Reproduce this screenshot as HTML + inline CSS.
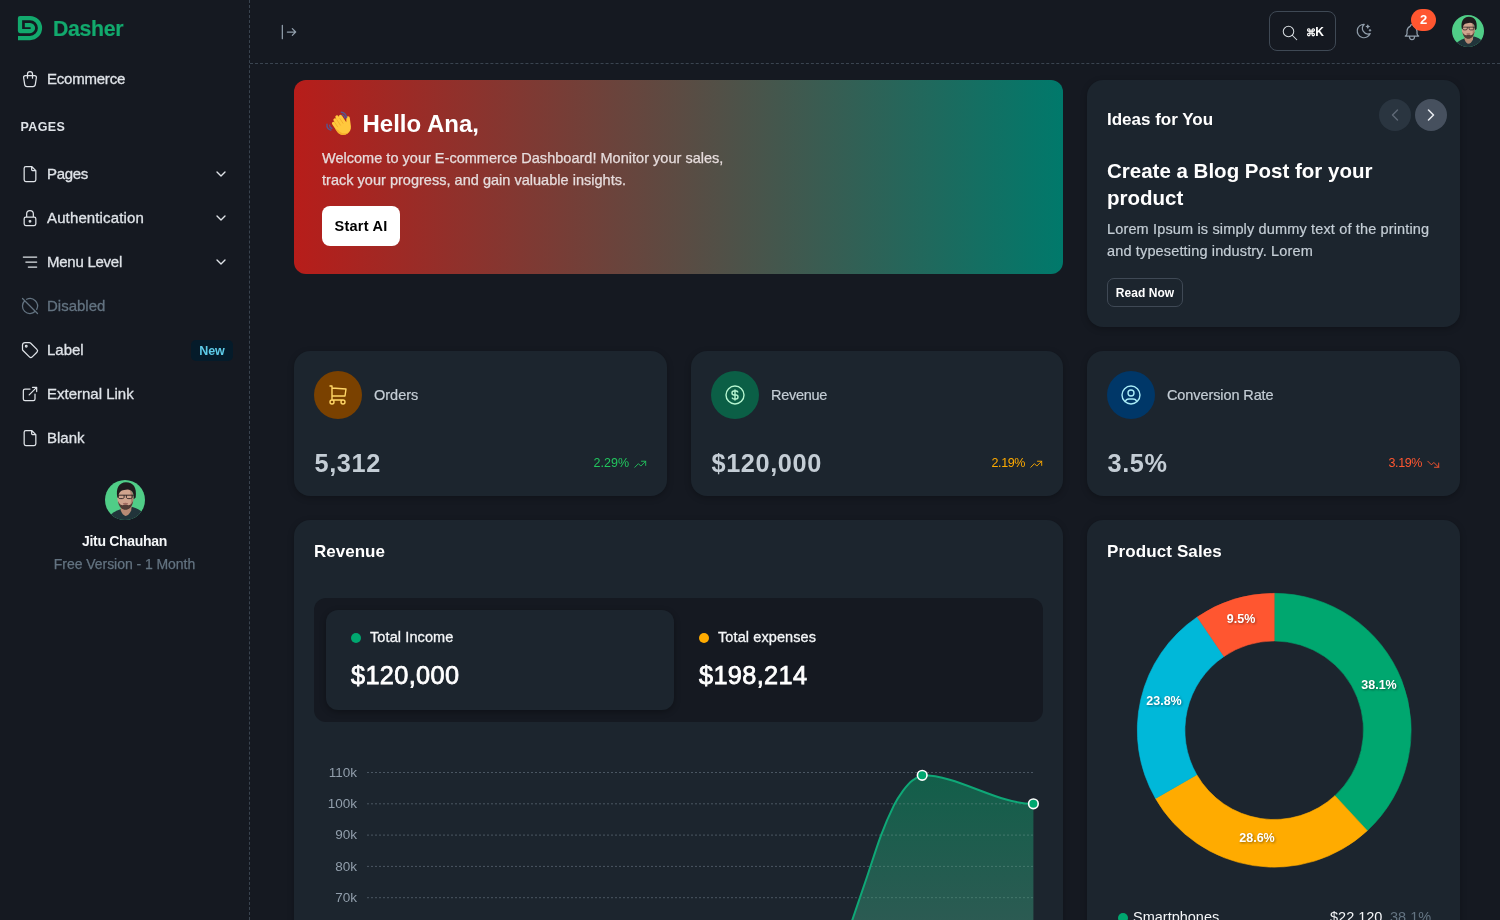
<!DOCTYPE html>
<html lang="en">
<head>
<meta charset="utf-8">
<title>Dasher - Ecommerce Dashboard</title>
<style>
*{box-sizing:border-box;margin:0;padding:0}
html,body{width:1500px;height:920px;overflow:hidden;background:#151921;}
body{font-family:"Liberation Sans",Arial,sans-serif;color:#fff;position:relative;-webkit-font-smoothing:antialiased}
.abs{position:absolute}
svg{display:block;overflow:visible}
/* ---------- sidebar ---------- */
#sidebar{position:absolute;left:0;top:0;width:250px;height:920px;border-right:1px dashed #3a4450;background:#151921}
.brand{position:absolute;left:18px;top:16px}
.brandtxt{position:absolute;left:53px;top:15.800px;font-weight:700;font-size:21.300px;line-height:26px;color:#12a96d;-webkit-text-stroke:.2px #12a96d;letter-spacing:-.35px}
.nav{position:absolute;left:0;width:249px;height:44px}
.nav .ic{position:absolute;left:20px;top:12px;width:20px;height:20px;stroke:#dfe3e8;fill:none;stroke-width:1.5;stroke-linecap:round;stroke-linejoin:round}
.nav .tx{position:absolute;left:47px;top:12px;font-size:15px;line-height:20px;color:#dfe3e8;white-space:nowrap;-webkit-text-stroke:.3px #dfe3e8}
.nav .chev{position:absolute;left:213px;top:14px;width:16px;height:16px;stroke:#dfe3e8;fill:none;stroke-width:2;stroke-linecap:round;stroke-linejoin:round}
.nav.dis .tx{color:#637381;-webkit-text-stroke:.3px #637381}
.nav.dis .ic{stroke:#637381}
.navhead{position:absolute;left:20.500px;top:119px;font-size:12.500px;font-weight:700;letter-spacing:.4px;color:#dfe3e8;line-height:16px}
.badge-new{position:absolute;left:191px;top:12px;width:42px;height:21px;border-radius:5px;background:#051b2a;color:#5ecbe8;font-size:12.500px;font-weight:700;line-height:23px;text-align:center}
.uname{position:absolute;left:0;width:249px;text-align:center;top:532px;font-size:14px;font-weight:700;line-height:18px;color:#f4f6f8;letter-spacing:-.3px}
.uplan{position:absolute;left:0;width:249px;text-align:center;top:555px;font-size:14px;line-height:18px;color:#637381;-webkit-text-stroke:.25px #637381;letter-spacing:-.05px}
/* ---------- header ---------- */
#header{position:absolute;left:250px;top:0;width:1250px;height:64px;border-bottom:1px dashed #3a4450}
.search{position:absolute;left:1019px;top:11px;width:67px;height:40px;border:1px solid #3f4955;border-radius:8px}
.kbd{position:absolute;left:1055.500px;top:23.500px;font-size:12px;font-weight:700;line-height:16px;color:#fff;letter-spacing:-.2px}
.nbadge{position:absolute;left:1161px;top:9px;width:25px;height:22px;border-radius:11px;background:#ff5630;color:#fff;font-size:13px;font-weight:700;line-height:21px;text-align:center}
/* ---------- cards ---------- */
.card{position:absolute;background:#1c252e;border-radius:16px;box-shadow:0 2px 6px rgba(0,0,0,.25)}
.hero{position:absolute;left:294px;top:80px;width:769px;height:194px;border-radius:12px;background:linear-gradient(90deg,#b71d1a 0%,#00796b 100%)}
.hero h1{position:absolute;left:68.500px;top:29px;font-size:24px;font-weight:700;line-height:30px;color:#fff;letter-spacing:0;white-space:nowrap}
.hero p{position:absolute;left:28px;top:67px;font-size:14.500px;line-height:22px;color:#e6dcdc;-webkit-text-stroke:.25px #e6dcdc;white-space:nowrap;letter-spacing:.02px}
.btnw{position:absolute;left:28px;top:126.200px;width:78px;height:40px;background:#fff;border-radius:8px;color:#000;font-weight:700;font-size:14.500px;line-height:41.200px;text-align:center;letter-spacing:.25px}
.ctitle{position:absolute;left:20px;font-size:17px;font-weight:700;line-height:22px;color:#fff;white-space:nowrap}
.stat .circ{position:absolute;left:20px;top:20px;width:48px;height:48px;border-radius:50%}
.stat .lbl{position:absolute;left:80px;top:34px;font-size:14.500px;line-height:20px;color:#c4cdd5;-webkit-text-stroke:.2px #c4cdd5;white-space:nowrap}
.stat .val{position:absolute;left:20.500px;top:95.200px;font-size:25.300px;font-weight:700;line-height:34px;color:#c4cdd5;white-space:nowrap;letter-spacing:.6px}
.stat .pct{position:absolute;right:38px;top:104.300px;font-size:12.5px;line-height:16px;white-space:nowrap}
.stat .arr{position:absolute;right:20px;top:105.500px;width:14.500px;height:14.500px;fill:none;stroke-width:1.500;stroke-linecap:round;stroke-linejoin:round}
</style>
</head>
<body>

<!-- ================= SIDEBAR ================= -->
<div id="sidebar">
  <svg class="brand" width="24" height="24" viewBox="18 16 24 24"><path d="M18 38H30A10 10 0 0 0 30 18H20V31H30A3 3 0 0 0 30 25H24.8" fill="none" stroke="#12a96d" stroke-width="4.250" stroke-linejoin="round"/></svg>
  <div class="brandtxt">Dasher</div>

  <div class="nav" style="top:57px">
    <svg class="ic" viewBox="0 0 24 24"><path d="M6.331 8h11.339a2 2 0 0 1 1.977 2.304l-1.255 8.152a3 3 0 0 1 -2.966 2.544h-6.852a3 3 0 0 1 -2.965 -2.544l-1.255 -8.152a2 2 0 0 1 1.977 -2.304zM9 11v-5a3 3 0 0 1 6 0v5"/></svg>
    <div class="tx" style="letter-spacing:-0.22px">Ecommerce</div>
  </div>

  <div class="navhead">PAGES</div>

  <div class="nav" style="top:152px">
    <svg class="ic" viewBox="0 0 24 24"><path d="M14 3v4a1 1 0 0 0 1 1h4M17 21h-10a2 2 0 0 1 -2 -2v-14a2 2 0 0 1 2 -2h7l5 5v11a2 2 0 0 1 -2 2z"/></svg>
    <div class="tx" style="letter-spacing:-.3px">Pages</div>
    <svg class="chev" viewBox="0 0 24 24"><path d="M6 9l6 6l6 -6"/></svg>
  </div>
  <div class="nav" style="top:196px">
    <svg class="ic" viewBox="0 0 24 24"><path d="M5 13a2 2 0 0 1 2 -2h10a2 2 0 0 1 2 2v6a2 2 0 0 1 -2 2h-10a2 2 0 0 1 -2 -2v-6zM11 16a1 1 0 1 0 2 0a1 1 0 0 0 -2 0M8 11v-4a4 4 0 1 1 8 0v4"/></svg>
    <div class="tx" style="letter-spacing:0.13px">Authentication</div>
    <svg class="chev" viewBox="0 0 24 24"><path d="M6 9l6 6l6 -6"/></svg>
  </div>
  <div class="nav" style="top:240px">
    <svg class="ic" viewBox="0 0 24 24"><path d="M4 6h16M7 12h13M10 18h10"/></svg>
    <div class="tx" style="letter-spacing:-0.25px">Menu Level</div>
    <svg class="chev" viewBox="0 0 24 24"><path d="M6 9l6 6l6 -6"/></svg>
  </div>
  <div class="nav dis" style="top:284px">
    <svg class="ic" viewBox="0 0 24 24"><path d="M20.042 16.045a9 9 0 0 0 -12.087 -12.087m-2.318 1.677a9 9 0 1 0 12.725 12.730M3 3l18 18"/></svg>
    <div class="tx">Disabled</div>
  </div>
  <div class="nav" style="top:328px">
    <svg class="ic" viewBox="0 0 24 24"><path d="M7.500 7.500m-1 0a1 1 0 1 0 2 0a1 1 0 1 0 -2 0M3 6v5.172a2 2 0 0 0 .586 1.414l7.710 7.710a2.410 2.410 0 0 0 3.408 0l5.592 -5.592a2.410 2.410 0 0 0 0 -3.408l-7.710 -7.710a2 2 0 0 0 -1.414 -.586h-5.172a3 3 0 0 0 -3 3z"/></svg>
    <div class="tx">Label</div>
    <div class="badge-new">New</div>
  </div>
  <div class="nav" style="top:372px">
    <svg class="ic" viewBox="0 0 24 24"><path d="M12 6h-6a2 2 0 0 0 -2 2v10a2 2 0 0 0 2 2h10a2 2 0 0 0 2 -2v-6M11 13l9 -9M15 4h5v5"/></svg>
    <div class="tx">External Link</div>
  </div>
  <div class="nav" style="top:416px">
    <svg class="ic" viewBox="0 0 24 24"><path d="M14 3v4a1 1 0 0 0 1 1h4M17 21h-10a2 2 0 0 1 -2 -2v-14a2 2 0 0 1 2 -2h7l5 5v11a2 2 0 0 1 -2 2z"/></svg>
    <div class="tx">Blank</div>
  </div>

  <!-- avatar -->
  <svg class="abs" style="left:105px;top:480px" width="40" height="40" viewBox="0 0 40 40">
    <defs><clipPath id="av1"><circle cx="20" cy="20" r="20"/></clipPath></defs>
    <g clip-path="url(#av1)">
      <rect width="40" height="40" fill="#50cd87"/>
      <path d="M3 37.500C6.500 33 11 30.800 15.500 29.300L27.500 27C31.500 28 35.500 30 38.500 33.500V41H3z" fill="#21343a"/>
      <path d="M15.300 24h11.500l-.6 6.500c-1.500 3.500-3.700 5.300-5.700 5.500-2-.5-3.700-2.500-4.700-5.500z" fill="#b78a74"/>
      <ellipse cx="20.400" cy="18.300" rx="8.100" ry="10.600" fill="#d0a48e"/>
      <path d="M24 8.500c3 1 4.600 4.500 4.500 10 0 5-2 8.500-4.500 10 1.500-3 2-6 2-10s-.5-7-2-10z" fill="#9d7462" opacity=".7"/>
      <path d="M12.400 17.500C10.500 8.500 14 2.200 21 2.200c7.300 0 11 5 9.700 15.300l-2 1.700c.5-6.200-1.500-9.400-6.200-9.600-4.500.9-8.500 0-9.200 7.900z" fill="#1f1b1d"/>
      <path d="M13 21c.6 5.500 3.800 8.800 7.500 8.800s6.900-3.300 7.600-8.800c-1.500 3.300-3.200 4.300-4.700 4.300-1.700-1-4-1-5.700 0-1.500 0-3.300-1-4.700-4.300z" fill="#3a2a27" opacity=".85"/>
      <path d="M17.800 23.300c1.600-.8 3.800-.8 5.400 0-.3 1-1.400 1.500-2.700 1.500s-2.400-.5-2.700-1.500z" fill="#a06a60"/>
      <path d="M12.300 15.200h16.500M13.300 15.200v1.900c0 1 .8 1.500 1.800 1.500h2.300c1 0 1.700-.6 1.700-1.500v-1.900M21.400 15.200v1.900c0 .9.700 1.500 1.700 1.500h2.300c1 0 1.800-.5 1.800-1.500v-1.900" fill="none" stroke="#2a2021" stroke-width=".9"/>
    </g>
  </svg>
  <div class="uname">Jitu Chauhan</div>
  <div class="uplan">Free Version - 1 Month</div>
</div>

<!-- ================= HEADER ================= -->
<div id="header">
  <svg class="abs" style="left:28.700px;top:22.400px" width="20" height="20" viewBox="0 0 24 24" fill="none" stroke="#919eab" stroke-width="1.500" stroke-linecap="round" stroke-linejoin="round"><path d="M20 12l-10 0M20 12l-4 4M20 12l-4 -4M4 4l0 16"/></svg>
  <div class="search"></div>
  <svg class="abs" style="left:1031px;top:24px" width="18" height="18" viewBox="0 0 24 24" fill="none" stroke="#d5dade" stroke-width="1.400" stroke-linecap="round" stroke-linejoin="round"><path d="M10 10m-7 0a7 7 0 1 0 14 0a7 7 0 1 0 -14 0M21 21l-6 -6"/></svg>
  <div class="kbd"><span style="font-size:9.500px;vertical-align:.5px">⌘</span>K</div>
  <svg class="abs" style="left:1104.500px;top:22px" width="18" height="18" viewBox="0 0 24 24" fill="none" stroke="#919eab" stroke-width="1.600" stroke-linecap="round" stroke-linejoin="round"><path d="M12 3c.132 0 .263 0 .393 0a7.500 7.500 0 0 0 7.920 12.446a9 9 0 1 1 -8.313 -12.454zM17 4a2 2 0 0 0 2 2a2 2 0 0 0 -2 2a2 2 0 0 0 -2 -2a2 2 0 0 0 2 -2M19 11h2m-1 -1v2"/></svg>
  <svg class="abs" style="left:1152.300px;top:22.100px" width="20" height="20" viewBox="0 0 24 24" fill="none" stroke="#919eab" stroke-width="1.500" stroke-linecap="round" stroke-linejoin="round"><path d="M10 5a2 2 0 1 1 4 0a7 7 0 0 1 4 6v3a4 4 0 0 0 2 3h-16a4 4 0 0 0 2 -3v-3a7 7 0 0 1 4 -6M9 17v1a3 3 0 0 0 6 0v-1"/></svg>
  <div class="nbadge">2</div>
  <svg class="abs" style="left:1202px;top:15px" width="32" height="32" viewBox="0 0 40 40">
    <defs><clipPath id="av2"><circle cx="20" cy="20" r="20"/></clipPath></defs>
    <g clip-path="url(#av2)">
      <rect width="40" height="40" fill="#50cd87"/>
      <path d="M3 37.500C6.500 33 11 30.800 15.500 29.300L27.500 27C31.500 28 35.500 30 38.500 33.500V41H3z" fill="#21343a"/>
      <path d="M15.300 24h11.500l-.6 6.500c-1.500 3.500-3.700 5.300-5.700 5.500-2-.5-3.700-2.500-4.700-5.500z" fill="#b78a74"/>
      <ellipse cx="20.400" cy="18.300" rx="8.100" ry="10.600" fill="#d0a48e"/>
      <path d="M24 8.500c3 1 4.600 4.500 4.500 10 0 5-2 8.500-4.500 10 1.500-3 2-6 2-10s-.5-7-2-10z" fill="#9d7462" opacity=".7"/>
      <path d="M12.400 17.500C10.500 8.500 14 2.200 21 2.200c7.300 0 11 5 9.700 15.300l-2 1.700c.5-6.200-1.500-9.400-6.200-9.600-4.500.9-8.500 0-9.200 7.900z" fill="#1f1b1d"/>
      <path d="M13 21c.6 5.500 3.800 8.800 7.500 8.800s6.900-3.300 7.600-8.800c-1.500 3.300-3.200 4.300-4.700 4.300-1.700-1-4-1-5.700 0-1.500 0-3.300-1-4.700-4.300z" fill="#3a2a27" opacity=".85"/>
      <path d="M17.800 23.300c1.600-.8 3.800-.8 5.400 0-.3 1-1.400 1.500-2.700 1.500s-2.400-.5-2.700-1.500z" fill="#a06a60"/>
      <path d="M12.300 15.200h16.500M13.300 15.200v1.900c0 1 .8 1.500 1.800 1.500h2.300c1 0 1.700-.6 1.700-1.500v-1.900M21.400 15.200v1.900c0 .9.700 1.500 1.700 1.500h2.300c1 0 1.800-.5 1.800-1.500v-1.900" fill="none" stroke="#2a2021" stroke-width=".9"/>
    </g>
  </svg>
</div>

<!-- ================= HERO ================= -->
<div class="hero">
  <svg class="abs" aria-label="waving hand" style="left:32px;top:30.500px" width="25" height="25" viewBox="0 0 25 25">
    <g transform="translate(16.100 15.900) rotate(-33) scale(.98) translate(-10 -15)">
      <path d="M3 12.500V7.200a1.600 1.600 0 0 1 3.200 0V5a1.650 1.650 0 0 1 3.300 0V3.600a1.650 1.650 0 0 1 3.300 0V5.200a1.650 1.650 0 0 1 3.300 0v8.200l2.500-3.600a1.750 1.750 0 0 1 3 1.800l-3.700 7.700c-1.500 3-4 4.400-7.200 4.400-4.600 0-7.700-3-7.700-7.500z" fill="#ffc83d"/>
      <path d="M3 12.500v3.700c0 4.500 3.100 7.500 7.700 7.500 1 0 2-.15 2.900-.45-4.800-.2-8.300-2.800-8.600-7.500z" fill="#f4a827" opacity=".75"/>
      <path d="M6.200 7.500v5M9.500 6v6.500M12.800 6.500v6" stroke="#eea52a" stroke-width=".7" fill="none" stroke-linecap="round"/>
    </g>
    <path d="M15.300 1.300c2.600.2 4.800 2.200 5.300 5.200M16.200 3.900c1.500.3 2.500 1.500 2.800 3.200" fill="none" stroke="#575690" stroke-width="1.400" stroke-linecap="round"/>
    <path d="M1 13.300c-.3 2.600 1.300 5 3.800 5.800M3.600 14.200c0 1.500.8 2.600 2.200 3.200" fill="none" stroke="#575690" stroke-width="1.400" stroke-linecap="round"/>
  </svg>
  <h1>Hello Ana,</h1>
  <p>Welcome to your E-commerce Dashboard! Monitor your sales,<br>track your progress, and gain valuable insights.</p>
  <div class="btnw">Start AI</div>
</div>

<div class="card" style="left:1087px;top:80px;width:373px;height:247px">
  <div class="ctitle" style="top:29px">Ideas for You</div>
  <div class="abs" style="left:292px;top:19px;width:32px;height:32px;border-radius:50%;background:#2a3540"></div>
  <div class="abs" style="left:328px;top:19px;width:32px;height:32px;border-radius:50%;background:#46505e"></div>
  <svg class="abs" style="left:298px;top:25px" width="20" height="20" viewBox="0 0 24 24" fill="none" stroke="#5f6976" stroke-width="1.700" stroke-linecap="round" stroke-linejoin="round"><path d="M15 6l-6 6l6 6"/></svg>
  <svg class="abs" style="left:334px;top:25px" width="20" height="20" viewBox="0 0 24 24" fill="none" stroke="#e6eaef" stroke-width="1.900" stroke-linecap="round" stroke-linejoin="round"><path d="M9 6l6 6l-6 6"/></svg>
  <div class="abs" style="left:20px;top:77px;font-size:20.500px;font-weight:700;line-height:27px;color:#fff;white-space:nowrap">Create a Blog Post for your<br>product</div>
  <div class="abs" style="left:20px;top:138.300px;font-size:14.500px;line-height:22px;color:#c4cdd5;-webkit-text-stroke:.2px #c4cdd5;white-space:nowrap;letter-spacing:.15px">Lorem Ipsum is simply dummy text of the printing<br>and typesetting industry. Lorem</div>
  <div class="abs" style="left:20px;top:198.300px;width:76px;height:29px;border:1px solid #3f4955;border-radius:7px;font-size:12px;font-weight:700;line-height:28.800px;text-align:center;color:#fff;letter-spacing:.05px">Read Now</div>
</div>

<div class="card stat" style="left:294px;top:351px;width:373px;height:145px">
  <div class="circ" style="background:#7a4100"></div>
  <svg class="abs" style="left:31.500px;top:31.800px" width="24" height="24" viewBox="0 0 24 24" fill="none" stroke="#ffd666" stroke-width="1.400" stroke-linecap="round" stroke-linejoin="round"><path d="M6 19m-2 0a2 2 0 1 0 4 0a2 2 0 1 0 -4 0M17 19m-2 0a2 2 0 1 0 4 0a2 2 0 1 0 -4 0M17 17h-11v-14h-2M6 5l14 1l-1 7h-13"/></svg>
  <div class="lbl">Orders</div>
  <div class="val">5,312</div>
  <div class="pct" style="color:#22c55e">2.29%</div>
  <svg class="arr" viewBox="0 0 24 24" stroke="#22c55e"><path d="M3 17l6 -6l4 4l8 -8M14 7l7 0l0 7"/></svg>
</div>
<div class="card stat" style="left:691px;top:351px;width:372px;height:145px">
  <div class="circ" style="background:#0b5f46"></div>
  <svg class="abs" style="left:31.500px;top:31.800px" width="24" height="24" viewBox="0 0 24 24" fill="none" stroke="#b6f5d0" stroke-width="1.400" stroke-linecap="round" stroke-linejoin="round"><path d="M12 12m-9 0a9 9 0 1 0 18 0a9 9 0 1 0 -18 0M14.800 9a2 2 0 0 0 -1.800 -1h-2a2 2 0 1 0 0 4h2a2 2 0 1 1 0 4h-2a2 2 0 0 1 -1.800 -1M12 7v10"/></svg>
  <div class="lbl" style="letter-spacing:-.28px">Revenue</div>
  <div class="val">$120,000</div>
  <div class="pct" style="color:#ffab00;letter-spacing:-.4px">2.19%</div>
  <svg class="arr" viewBox="0 0 24 24" stroke="#ffab00"><path d="M3 17l6 -6l4 4l8 -8M14 7l7 0l0 7"/></svg>
</div>
<div class="card stat" style="left:1087px;top:351px;width:373px;height:145px">
  <div class="circ" style="background:#003768"></div>
  <svg class="abs" style="left:31.500px;top:31.800px" width="24" height="24" viewBox="0 0 24 24" fill="none" stroke="#a9ecf7" stroke-width="1.400" stroke-linecap="round" stroke-linejoin="round"><path d="M12 12m-9 0a9 9 0 1 0 18 0a9 9 0 1 0 -18 0M12 10m-3 0a3 3 0 1 0 6 0a3 3 0 1 0 -6 0M6.168 18.849a4 4 0 0 1 3.832 -2.849h4a4 4 0 0 1 3.834 2.855"/></svg>
  <div class="lbl" style="letter-spacing:-.1px">Conversion Rate</div>
  <div class="val">3.5%</div>
  <div class="pct" style="color:#ff5630;letter-spacing:-.4px">3.19%</div>
  <svg class="arr" viewBox="0 0 24 24" stroke="#ff5630"><path d="M3 7l6 6l4 -4l8 8M21 10l0 7l-7 0"/></svg>
</div>

<div class="card" style="left:294px;top:520px;width:769px;height:420px">
  <div class="ctitle" style="top:20.600px">Revenue</div>
  <div class="abs" style="left:20px;top:78px;width:729px;height:124px;border-radius:12px;background:#151921"></div>
  <div class="abs" style="left:32px;top:90px;width:348px;height:100px;border-radius:12px;background:#1c252e;box-shadow:0 2px 6px rgba(0,0,0,.3)"></div>
  <div class="abs" style="left:57px;top:113px;width:10px;height:10px;border-radius:50%;background:#00a76f"></div>
  <div class="abs" style="left:76px;top:107px;font-size:14.500px;line-height:20px;color:#f4f6f8;-webkit-text-stroke:.3px #f4f6f8;white-space:nowrap;letter-spacing:.1px">Total Income</div>
  <div class="abs" style="left:57px;top:138.200px;font-size:25.300px;font-weight:400;-webkit-text-stroke:.75px #fff;line-height:34px;color:#fff;white-space:nowrap;letter-spacing:.35px">$120,000</div>
  <div class="abs" style="left:405px;top:113px;width:10px;height:10px;border-radius:50%;background:#ffab00"></div>
  <div class="abs" style="left:424px;top:107px;font-size:14.500px;line-height:20px;color:#f4f6f8;-webkit-text-stroke:.3px #f4f6f8;white-space:nowrap;letter-spacing:.1px">Total expenses</div>
  <div class="abs" style="left:405px;top:138.200px;font-size:25.300px;font-weight:400;-webkit-text-stroke:.75px #fff;line-height:34px;color:#fff;white-space:nowrap;letter-spacing:.35px">$198,214</div>
</div>
<svg class="abs" style="left:0;top:0;pointer-events:none" width="1500" height="920" viewBox="0 0 1500 920">
  <defs><linearGradient id="ag" x1="0" y1="775" x2="0" y2="920" gradientUnits="userSpaceOnUse"><stop offset="0" stop-color="#12614b"/><stop offset="1" stop-color="#2c5d54"/></linearGradient><clipPath id="ac"><path d="M838.0 962.0C840.4 955.0 847.6 933.8 852.3 920.0C857.0 906.2 861.4 893.4 866.2 879.3C871.0 865.2 876.4 847.7 881.0 835.4C885.6 823.1 890.2 812.9 893.9 805.4C897.6 797.9 900.0 794.8 903.1 790.6C906.2 786.5 909.2 783.0 912.4 780.5C915.6 778.0 918.9 776.2 922.2 775.3C959 775.3 996 803.8 1033.4 803.8V962H838Z"/></clipPath></defs>
  <g stroke="#4a5662" stroke-width="1" stroke-dasharray="2 2" fill="none"><path d="M367 772.5H1034"/><path d="M367 803.8H1034"/><path d="M367 835.1H1034"/><path d="M367 866.4H1034"/><path d="M367 897.7H1034"/></g>
  <path d="M838.0 962.0C840.4 955.0 847.6 933.8 852.3 920.0C857.0 906.2 861.4 893.4 866.2 879.3C871.0 865.2 876.4 847.7 881.0 835.4C885.6 823.1 890.2 812.9 893.9 805.4C897.6 797.9 900.0 794.8 903.1 790.6C906.2 786.5 909.2 783.0 912.4 780.5C915.6 778.0 918.9 776.2 922.2 775.3C959 775.3 996 803.8 1033.4 803.8V962H838Z" fill="url(#ag)" opacity=".96"/>
  <g clip-path="url(#ac)" stroke="#4a7d72" stroke-width="1" stroke-dasharray="2 2" fill="none" opacity=".85"><path d="M367 772.5H1034"/><path d="M367 803.8H1034"/><path d="M367 835.1H1034"/><path d="M367 866.4H1034"/><path d="M367 897.7H1034"/></g>
  <path d="M838.0 962.0C840.4 955.0 847.6 933.8 852.3 920.0C857.0 906.2 861.4 893.4 866.2 879.3C871.0 865.2 876.4 847.7 881.0 835.4C885.6 823.1 890.2 812.9 893.9 805.4C897.6 797.9 900.0 794.8 903.1 790.6C906.2 786.5 909.2 783.0 912.4 780.5C915.6 778.0 918.9 776.2 922.2 775.3C959 775.3 996 803.8 1033.4 803.8" fill="none" stroke="#0fa877" stroke-width="2"/>
  <circle cx="922.2" cy="775.3" r="4.800" fill="#00a76f" stroke="#fff" stroke-width="1.600"/>
  <circle cx="1033.4" cy="803.8" r="4.800" fill="#00a76f" stroke="#fff" stroke-width="1.600"/>
  <g font-family="'Liberation Sans',Arial,sans-serif" font-size="13.500" fill="#919eab"><text x="357" y="776.7" text-anchor="end">110k</text><text x="357" y="808.0" text-anchor="end">100k</text><text x="357" y="839.3" text-anchor="end">90k</text><text x="357" y="870.6" text-anchor="end">80k</text><text x="357" y="901.9" text-anchor="end">70k</text></g>
</svg>

<div class="card" style="left:1087px;top:520px;width:373px;height:420px">
  <div class="ctitle" style="top:20.600px;letter-spacing:.12px">Product Sales</div>
  <div class="abs" style="left:31px;top:393.400px;width:10px;height:10px;border-radius:50%;background:#00a76f"></div>
  <div class="abs" style="left:46px;top:387px;font-size:14.500px;line-height:20px;color:#f4f6f8;white-space:nowrap">Smartphones</div>
  <div class="abs" style="left:243px;top:387px;font-size:14.500px;line-height:20px;color:#f4f6f8;white-space:nowrap">$22,120</div>
  <div class="abs" style="left:303px;top:387px;font-size:14.500px;line-height:20px;color:#637381;white-space:nowrap">38.1%</div>
</div>
<svg class="abs" style="left:0;top:0;pointer-events:none" width="1500" height="920" viewBox="0 0 1500 920">
  <path d="M1274.20 593.35A136.9 136.9 0 0 1 1367.29 830.63L1334.92 795.73A89.3 89.3 0 0 0 1274.20 640.95Z" fill="#00a76f" stroke="#00a76f" stroke-width=".6"/><path d="M1367.29 830.63A136.9 136.9 0 0 1 1155.50 798.45L1196.77 774.74A89.3 89.3 0 0 0 1334.92 795.73Z" fill="#ffab00" stroke="#ffab00" stroke-width=".6"/><path d="M1155.50 798.45A136.9 136.9 0 0 1 1197.25 617.02L1224.01 656.39A89.3 89.3 0 0 0 1196.77 774.74Z" fill="#00b8d9" stroke="#00b8d9" stroke-width=".6"/><path d="M1197.25 617.02A136.9 136.9 0 0 1 1274.20 593.35L1274.20 640.95A89.3 89.3 0 0 0 1224.01 656.39Z" fill="#ff5630" stroke="#ff5630" stroke-width=".6"/>
  <g font-family="'Liberation Sans',Arial,sans-serif" font-size="12.500" font-weight="700" fill="#fff" style="filter:drop-shadow(1px 1px 1px rgba(0,0,0,.4))"><text x="1379" y="688.5" text-anchor="middle">38.1%</text><text x="1257" y="841.5" text-anchor="middle">28.6%</text><text x="1164" y="704.5" text-anchor="middle">23.8%</text><text x="1241" y="622.5" text-anchor="middle">9.5%</text></g>
</svg>


</body>
</html>
